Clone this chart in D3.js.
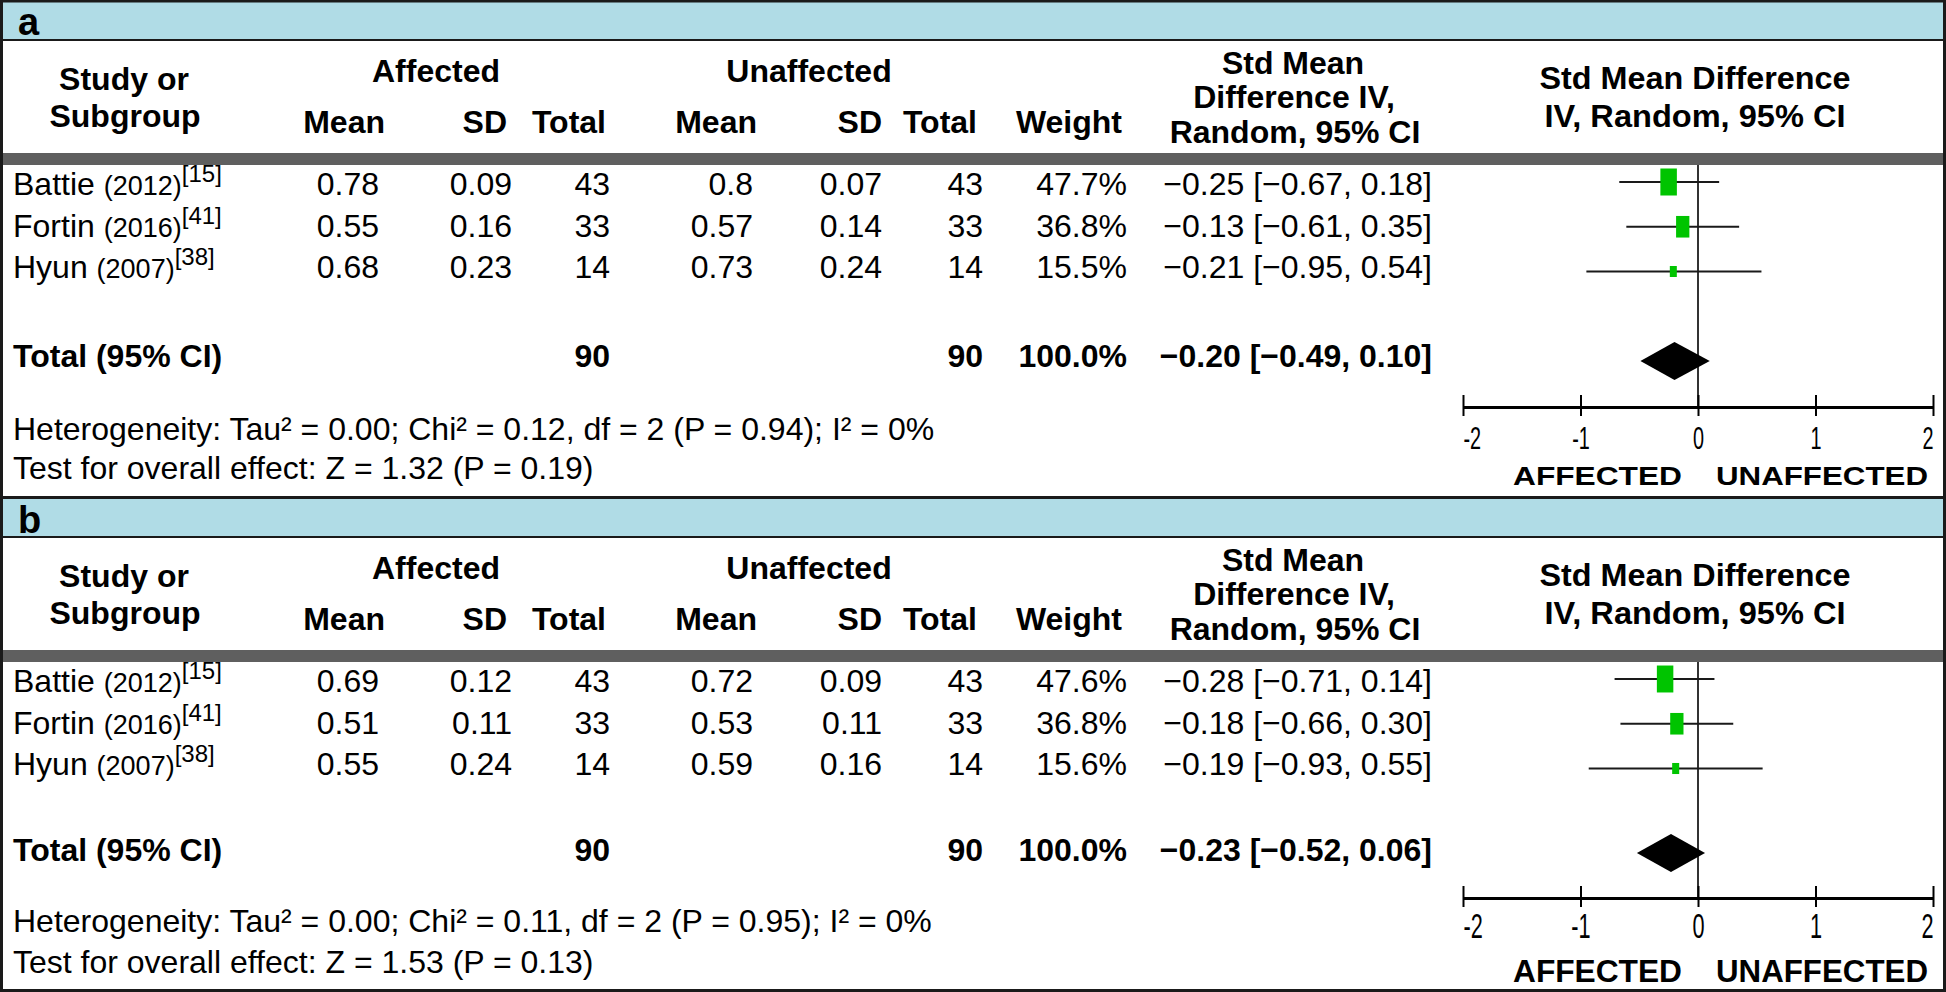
<!DOCTYPE html>
<html><head><meta charset="utf-8">
<script src="https://cdn.jsdelivr.net/npm/d3@7"></script>
<style>html,body{margin:0;padding:0;background:#fff;} svg{display:block;}</style>
</head><body>
<svg id="chart" width="1946" height="992"></svg>
<script>
// ---------- data ----------
const panelLabels = ["a", "b"];
const studyNames = ["Battie", "Fortin", "Hyun"];
const studyYears = ["(2012)", "(2016)", "(2007)"];
const studyRefs = ["[15]", "[41]", "[38]"];
const affectedN = [43, 33, 14];
const unaffectedN = [43, 33, 14];

const affectedMeanA = [0.78, 0.55, 0.68];
const affectedSdA = [0.09, 0.16, 0.23];
const unaffectedMeanA = [0.8, 0.57, 0.73];
const unaffectedSdA = [0.07, 0.14, 0.24];
const weightA = [47.7, 36.8, 15.5];
const smdA = [-0.25, -0.13, -0.21];
const lowerA = [-0.67, -0.61, -0.95];
const upperA = [0.18, 0.35, 0.54];

const affectedMeanB = [0.69, 0.51, 0.55];
const affectedSdB = [0.12, 0.11, 0.24];
const unaffectedMeanB = [0.72, 0.53, 0.59];
const unaffectedSdB = [0.09, 0.11, 0.16];
const weightB = [47.6, 36.8, 15.6];
const smdB = [-0.28, -0.18, -0.19];
const lowerB = [-0.71, -0.66, -0.93];
const upperB = [0.14, 0.30, 0.55];

const totalAffected = [90, 90];
const totalUnaffected = [90, 90];
const totalWeight = [100.0, 100.0];
const totalSmd = [-0.20, -0.23];
const totalLower = [-0.49, -0.52];
const totalUpper = [0.10, 0.06];

const tau2 = ["0.00", "0.00"];
const chi2 = ["0.12", "0.11"];
const dfHet = [2, 2];
const pHet = ["0.94", "0.95"];
const i2 = ["0%", "0%"];
const zOverall = ["1.32", "1.53"];
const pOverall = ["0.19", "0.13"];

const columnHeaders = ["Mean", "SD", "Total", "Mean", "SD", "Total", "Weight"];
const axisTicks = [-2, -1, 0, 1, 2];
const axisDomain = [-2, 2];
const favourLabels = ["AFFECTED", "UNAFFECTED"];

// ---------- assemble ----------
const panels = [
  {label: panelLabels[0], aM: affectedMeanA, aS: affectedSdA, uM: unaffectedMeanA, uS: unaffectedSdA,
   w: weightA, est: smdA, lo: lowerA, hi: upperA},
  {label: panelLabels[1], aM: affectedMeanB, aS: affectedSdB, uM: unaffectedMeanB, uS: unaffectedSdB,
   w: weightB, est: smdB, lo: lowerB, hi: upperB}
];

const FONT = "'Liberation Sans', Arial, Helvetica, sans-serif";
const W = 1946, H = 992;
const svg = d3.select("#chart");
svg.append("rect").attr("width", W).attr("height", H).attr("fill", "#fff");

const x = d3.scaleLinear().domain(axisDomain).range([1463, 1933]);
const rowText = d3.scaleLinear().domain([0, 2]).range([195, 278]);
const rowMark = d3.scaleLinear().domain([0, 2]).range([182, 271.5]);
const boxW = d3.scaleLinear().domain([15.5, 47.7]).range([7, 16.5]);
const boxH = d3.scaleLinear().domain([15.5, 47.7]).range([11, 27]);

const layout = [
  {top: 0,   letterY: 35, diamondY: 361, axisY: 407, tickFont: 32, tickY: 449, labFont: 26, labY: 485, totY: 367, hetY: 440, testY: 479},
  {top: 497, letterY: 36, diamondY: 356, axisY: 401, tickFont: 35, tickY: 441, labFont: 31, labY: 485, totY: 364, hetY: 435, testY: 476}
];

const dataRight = [379, 512, 610, 753, 882, 983, 1127, 1432];
const headRight = [385, 507, 606, 757, 882, 977, 1122];

const fmt2 = v => (v < 0 ? "\u2212" : "") + Math.abs(v).toFixed(2);
const ciText = (e, l, h) => `${fmt2(e)} [${fmt2(l)}, ${fmt2(h)}]`;

function T(g, px, py, s, o = {}) {
  const t = g.append("text")
    .attr("x", px).attr("y", py)
    .attr("font-family", FONT)
    .attr("font-size", o.size || 32)
    .attr("font-weight", o.weight || "normal")
    .attr("text-anchor", o.anchor || "start")
    .attr("fill", "#000")
    .text(s);
  if (o.len) t.attr("textLength", o.len).attr("lengthAdjust", "spacingAndGlyphs");
  return t;
}

panels.forEach((P, pi) => {
  const L = layout[pi];
  const g = svg.append("g").attr("transform", `translate(0,${L.top})`);

  // blue title band
  g.append("rect").attr("x", 0).attr("y", 1).attr("width", W).attr("height", 39).attr("fill", "#b0dce6");
  g.append("line").attr("x1", 0).attr("x2", W).attr("y1", 40).attr("y2", 40).attr("stroke", "#1a1a1a").attr("stroke-width", 2);
  T(g, 18, L.letterY, P.label, {size: 38, weight: "bold"});

  // header
  T(g, 124, 90, "Study or", {weight: "bold", anchor: "middle"});
  T(g, 125, 127, "Subgroup", {weight: "bold", anchor: "middle"});
  T(g, 436, 82, "Affected", {weight: "bold", anchor: "middle"});
  T(g, 809, 82, "Unaffected", {weight: "bold", anchor: "middle"});
  columnHeaders.forEach((h, i) => T(g, headRight[i], 133, h, {weight: "bold", anchor: "end"}));
  T(g, 1293, 74, "Std Mean", {weight: "bold", anchor: "middle"});
  T(g, 1294, 108, "Difference IV,", {weight: "bold", anchor: "middle"});
  T(g, 1295, 143, "Random, 95% CI", {weight: "bold", anchor: "middle"});
  T(g, 1695, 89, "Std Mean Difference", {weight: "bold", anchor: "middle", len: 311});
  T(g, 1695, 127, "IV, Random, 95% CI", {weight: "bold", anchor: "middle", len: 301});

  // grey separator bar
  g.append("rect").attr("x", 0).attr("y", 153).attr("width", W).attr("height", 12).attr("fill", "#5f5f5f");

  // study rows
  studyNames.forEach((name, i) => {
    const y = rowText(i);
    const t = T(g, 13, y, name + " ");
    t.append("tspan").attr("font-size", 27).text(studyYears[i]);
    t.append("tspan").attr("font-size", 24).attr("dy", -13).text(studyRefs[i]);
    const vals = [String(P.aM[i]), String(P.aS[i]), String(affectedN[i]),
                  String(P.uM[i]), String(P.uS[i]), String(unaffectedN[i]),
                  P.w[i].toFixed(1) + "%", ciText(P.est[i], P.lo[i], P.hi[i])];
    vals.forEach((v, c) => T(g, dataRight[c], y, v, {anchor: "end"}));
  });

  // total row
  const ty = L.totY;
  T(g, 13, ty, "Total (95% CI)", {weight: "bold"});
  T(g, dataRight[2], ty, String(totalAffected[pi]), {weight: "bold", anchor: "end"});
  T(g, dataRight[5], ty, String(totalUnaffected[pi]), {weight: "bold", anchor: "end"});
  T(g, dataRight[6], ty, totalWeight[pi].toFixed(1) + "%", {weight: "bold", anchor: "end"});
  T(g, dataRight[7], ty, ciText(totalSmd[pi], totalLower[pi], totalUpper[pi]), {weight: "bold", anchor: "end"});

  T(g, 13, L.hetY, `Heterogeneity: Tau\u00B2 = ${tau2[pi]}; Chi\u00B2 = ${chi2[pi]}, df = ${dfHet[pi]} (P = ${pHet[pi]}); I\u00B2 = ${i2[pi]}`);
  T(g, 13, L.testY, `Test for overall effect: Z = ${zOverall[pi]} (P = ${pOverall[pi]})`);

  // forest plot: zero line
  g.append("line").attr("x1", x(0)).attr("x2", x(0)).attr("y1", 165).attr("y2", L.axisY)
    .attr("stroke", "#333").attr("stroke-width", 2);

  // CI lines and boxes
  const rows = studyNames.map((n, i) => ({i, est: P.est[i], lo: P.lo[i], hi: P.hi[i], w: P.w[i]}));
  g.selectAll(".ci").data(rows).enter().append("line")
    .attr("x1", d => x(d.lo)).attr("x2", d => x(d.hi))
    .attr("y1", d => rowMark(d.i)).attr("y2", d => rowMark(d.i))
    .attr("stroke", "#1a1a1a").attr("stroke-width", 2);
  g.selectAll(".box").data(rows).enter().append("rect")
    .attr("x", d => x(d.est) - boxW(d.w) / 2).attr("y", d => rowMark(d.i) - boxH(d.w) / 2)
    .attr("width", d => boxW(d.w)).attr("height", d => boxH(d.w))
    .attr("fill", "#00c400");

  // diamond
  const cy = L.diamondY;
  g.append("path")
    .attr("d", `M${x(totalLower[pi])},${cy}L${x(totalSmd[pi])},${cy - 19}L${x(totalUpper[pi])},${cy}L${x(totalSmd[pi])},${cy + 19}Z`)
    .attr("fill", "#000");

  // axis
  const axis = d3.axisBottom(x).tickValues(axisTicks).tickSize(9).tickSizeOuter(0).tickFormat(d => String(d));
  const ag = g.append("g").attr("transform", `translate(0,${L.axisY})`).call(axis);
  ag.select(".domain").attr("stroke", "#000").attr("stroke-width", 3);
  ag.selectAll(".tick line").attr("y1", -12).attr("y2", 9).attr("stroke", "#000").attr("stroke-width", 2);
  const nT = axisTicks.length;
  ag.selectAll(".tick text")
    .attr("y", 0).attr("dy", 0)
    .attr("font-size", L.tickFont).attr("font-family", FONT).attr("fill", "#000")
    .attr("transform", `translate(0,${L.tickY - L.axisY}) scale(0.62,1)`)
    .attr("text-anchor", (d, i) => i === 0 ? "start" : (i === nT - 1 ? "end" : "middle"));

  // favour labels
  T(g, 1513, L.labY, favourLabels[0], {size: L.labFont, weight: "bold", len: 169});
  T(g, 1716, L.labY, favourLabels[1], {size: L.labFont, weight: "bold", len: 212});
});

// outer borders and panel separator
svg.append("line").attr("x1", 0).attr("x2", W).attr("y1", 497.5).attr("y2", 497.5).attr("stroke", "#1a1a1a").attr("stroke-width", 3);
svg.append("rect").attr("x", 1.5).attr("y", 1).attr("width", W - 3).attr("height", H - 2.5)
  .attr("fill", "none").attr("stroke", "#1a1a1a").attr("stroke-width", 3);
</script>
</body></html>
